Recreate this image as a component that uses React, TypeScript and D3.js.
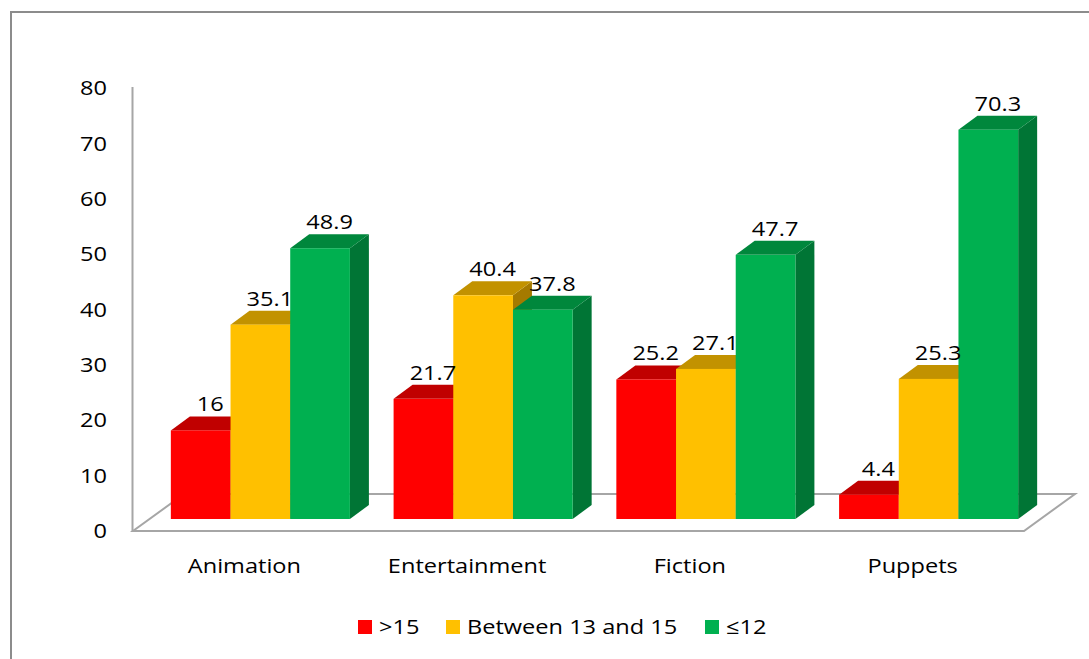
import React from "react";
import * as d3 from "d3";

const categories = ["Animation", "Entertainment", "Fiction", "Puppets"];
const seriesNames = [">15", "Between 13 and 15", "≤12"];
const seriesValues: number[][] = [
  [16, 21.7, 25.2, 4.4],
  [35.1, 40.4, 27.1, 25.3],
  [48.9, 37.8, 47.7, 70.3],
];
const yTicks = [0, 10, 20, 30, 40, 50, 60, 70, 80];

const COLORS = [
  { front: "#FF0000", top: "#C00000", side: "#A00000" },
  { front: "#FFC000", top: "#C29200", side: "#A57A00" },
  { front: "#00B050", top: "#00873C", side: "#007535" },
];

const W = 1089;
const H = 659;
const FONT = "'Open Sans', sans-serif";
const FS = 20.5;
const SX = 1.15;

function T(props: { x: number; y: number; anchor?: "start" | "middle" | "end"; dy?: string; children: React.ReactNode }) {
  return (
    <text
      transform={`translate(${props.x},${props.y}) scale(${SX},1)`}
      dy={props.dy}
      textAnchor={props.anchor || "start"}
      fontFamily={FONT}
      fontSize={FS}
      fill="#000"
    >
      {props.children}
    </text>
  );
}

export default function App() {
  const floorLeft = 133;
  const floorRight = 1024;
  const frontY0 = 531;
  const floorDepth = { dx: 51, dy: -37 };
  const barPlane = { dx: 16, dy: -12 };
  const barDepth = { dx: 19, dy: -14 };

  const x = d3.scaleBand<string>().domain(categories).range([floorLeft, floorRight]).padding(0);
  const xs = d3
    .scaleBand<number>()
    .domain(d3.range(seriesNames.length))
    .range([0, x.bandwidth()])
    .paddingInner(0)
    .paddingOuter(0.366);
  const y = d3.scaleLinear().domain([0, 80]).range([frontY0, 88]);

  const bars: React.ReactElement[] = [];
  const labels: React.ReactElement[] = [];
  categories.forEach((cat, ci) => {
    seriesValues.forEach((vals, si) => {
      const v = vals[ci];
      const x0 = (x(cat) as number) + (xs(si) as number) + barPlane.dx;
      const w = xs.bandwidth();
      const x1 = x0 + w;
      const yb = y(0) + barPlane.dy;
      const yt = y(v) + barPlane.dy;
      const c = COLORS[si];
      const { dx, dy } = barDepth;
      bars.push(
        <g key={`${ci}-${si}`}>
          <polygon
            points={`${x1},${yt} ${x1 + dx},${yt + dy} ${x1 + dx},${yb + dy} ${x1},${yb}`}
            fill={c.side}
          />
          <polygon
            points={`${x0},${yt} ${x1},${yt} ${x1 + dx},${yt + dy} ${x0 + dx},${yt + dy}`}
            fill={c.top}
          />
          <rect x={x0} y={yt} width={w} height={yb - yt} fill={c.front} />
        </g>
      );
      labels.push(
        <T key={`l-${ci}-${si}`} x={x0 + w / 2 + dx / 2} y={yt + dy - 5} anchor="middle">
          {String(v)}
        </T>
      );
    });
  });

  const fl = floorLeft;
  const fr = floorRight;
  const fb = frontY0;
  const floorPts = `${fl},${fb} ${fr},${fb} ${fr + floorDepth.dx},${fb + floorDepth.dy} ${fl + floorDepth.dx},${fb + floorDepth.dy}`;

  const legendItems = [
    { x: 358, tx: 379 },
    { x: 446, tx: 467 },
    { x: 705, tx: 726 },
  ];

  return (
    <svg width={W} height={H} style={{ position: "absolute", left: 0, top: 0, background: "#fff" }}>
      <rect x={0} y={0} width={W} height={H} fill="#fff" />
      <rect x={11} y={12} width={W + 20} height={H + 20} fill="none" stroke="#8C8C8C" strokeWidth={2} />
      <polygon points={floorPts} fill="#fff" stroke="#A6A6A6" strokeWidth={2} />
      <line x1={132.5} x2={132.5} y1={y(80) - 1} y2={fb} stroke="#A6A6A6" strokeWidth={2} />
      {yTicks.map((t) => (
        <T key={t} x={107} y={y(t)} dy="0.35em" anchor="end">
          {t}
        </T>
      ))}
      {bars}
      {labels}
      {categories.map((c) => (
        <T key={c} x={(x(c) as number) + x.bandwidth() / 2} y={573} anchor="middle">
          {c}
        </T>
      ))}
      {seriesNames.map((s, i) => (
        <g key={s}>
          <rect x={legendItems[i].x} y={620} width={14} height={14} fill={COLORS[i].front} />
          <T x={legendItems[i].tx} y={634}>
            {s}
          </T>
        </g>
      ))}
    </svg>
  );
}
